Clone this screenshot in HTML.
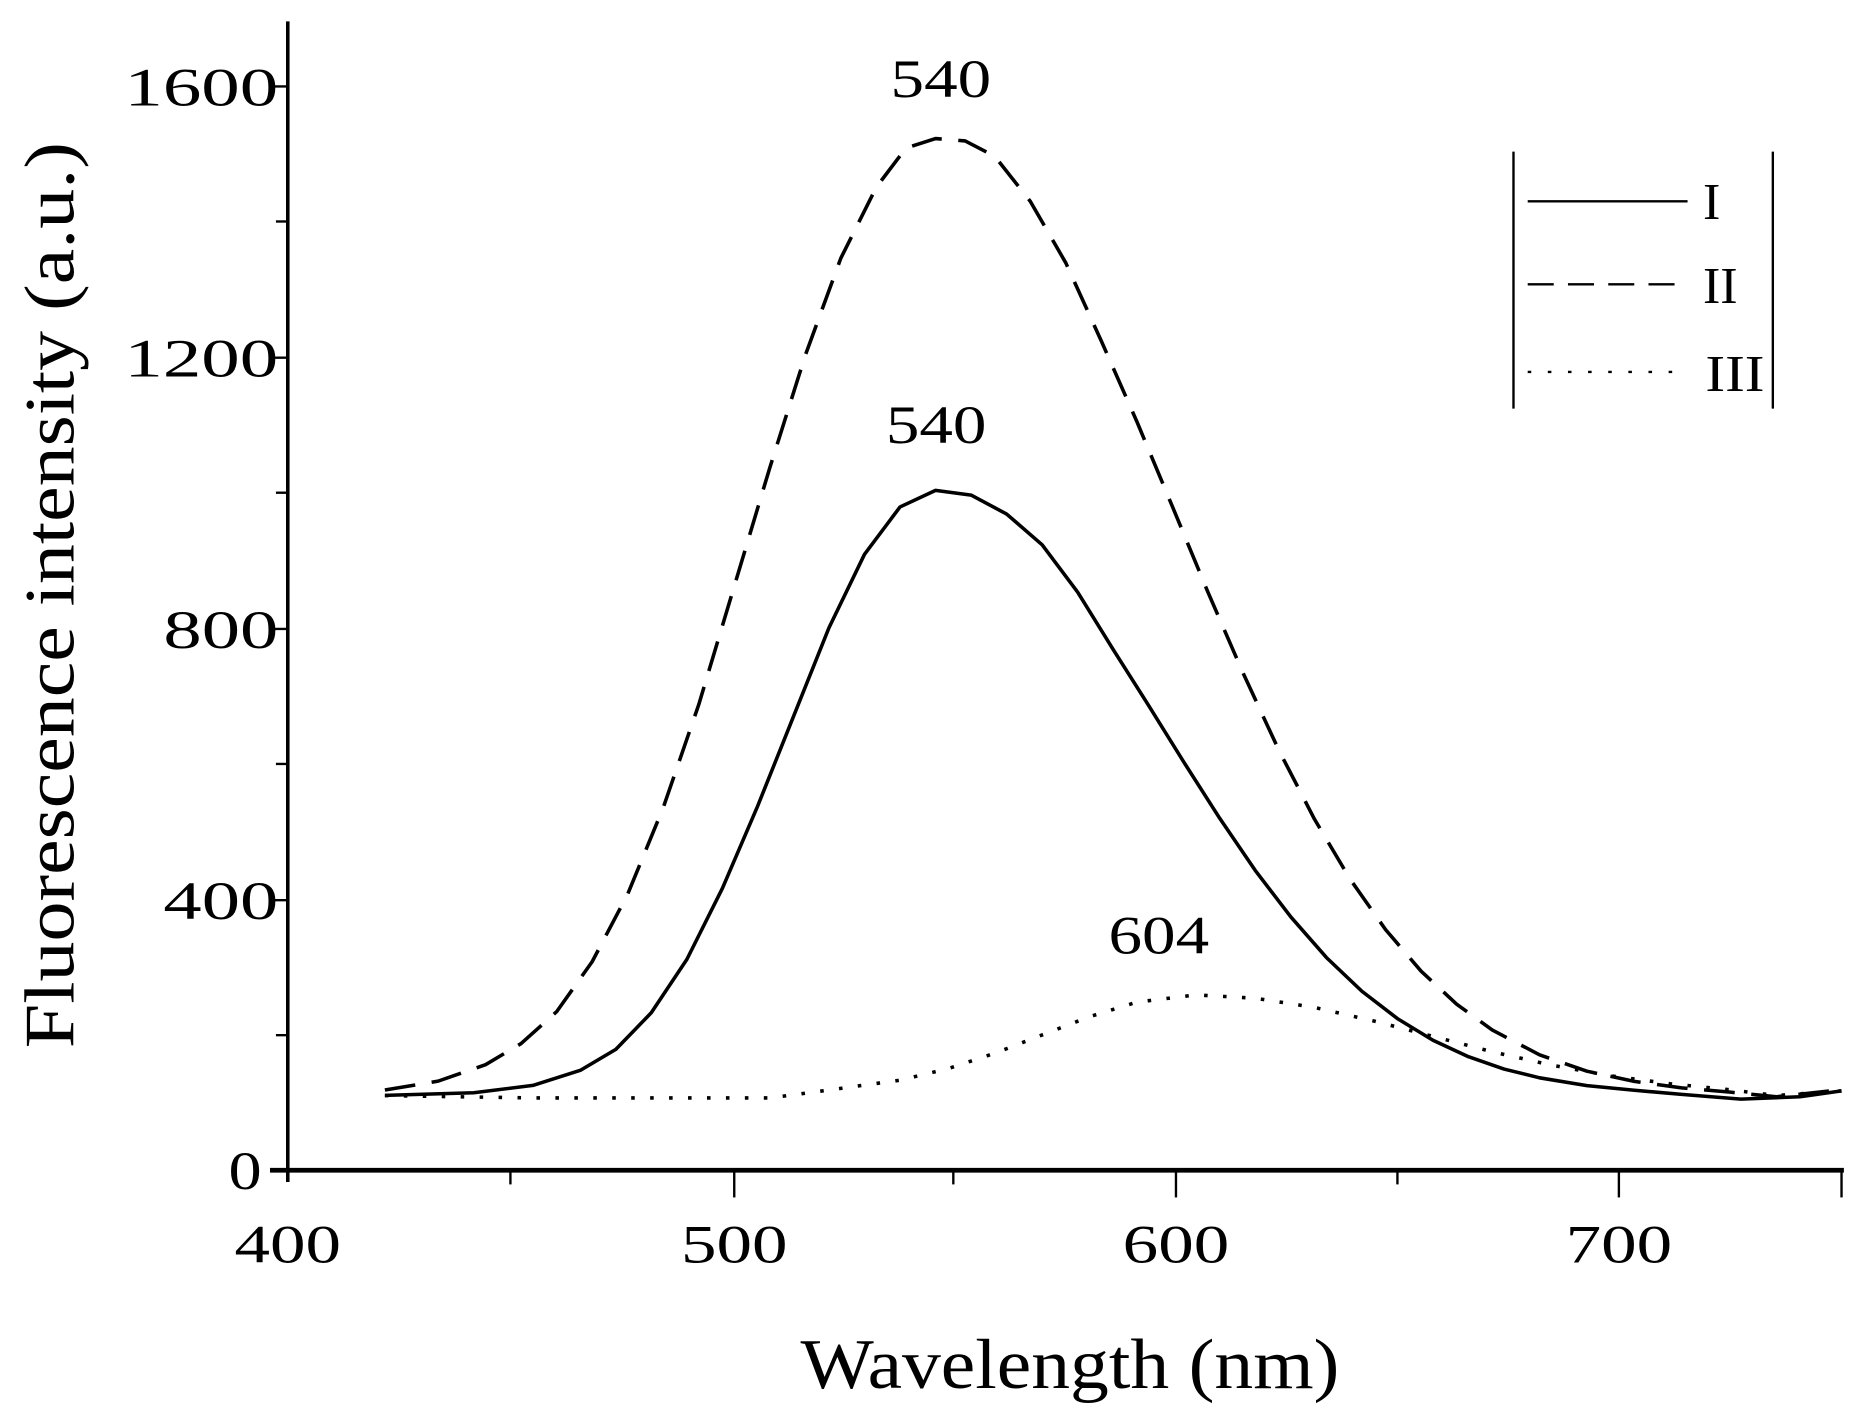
<!DOCTYPE html>
<html><head><style>html,body{margin:0;padding:0;background:#fff}svg{display:block}</style></head>
<body>
<svg width="1851" height="1413" viewBox="0 0 1563 1193" preserveAspectRatio="none" xmlns="http://www.w3.org/2000/svg" font-family="Liberation Serif, serif" fill="#000">
<rect width="1563" height="1193" fill="#fff"/>
<g stroke="#000" fill="none" stroke-linejoin="round">
<line x1="243" y1="18" x2="243" y2="998" stroke-width="3"/>
<line x1="228" y1="988" x2="1557" y2="988" stroke-width="4"/>
<g stroke-width="2">
<line x1="228" y1="73" x2="243" y2="73"/><line x1="233" y1="187" x2="243" y2="187"/>
<line x1="228" y1="302" x2="243" y2="302"/><line x1="233" y1="416" x2="243" y2="416"/>
<line x1="228" y1="531" x2="243" y2="531"/><line x1="233" y1="645" x2="243" y2="645"/>
<line x1="228" y1="760" x2="243" y2="760"/><line x1="233" y1="874" x2="243" y2="874"/>
<line x1="620" y1="988" x2="620" y2="1011"/><line x1="993" y1="988" x2="993" y2="1011"/>
<line x1="1367" y1="988" x2="1367" y2="1011"/><line x1="1555" y1="988" x2="1555" y2="1011"/>
<line x1="431" y1="988" x2="431" y2="1000"/><line x1="805" y1="988" x2="805" y2="1000"/>
<line x1="1180" y1="988" x2="1180" y2="1000"/>
</g>
<polyline stroke-width="3" points="325,924.8 400,922.6 450,916.4 490,903.7 520,886 550,855 580,810 610,750 640,680 670,605 700,530 730,468 760,428 790,414 820,418 850,434 880,460 910,500 940,548.4 970,595.8 1000,644 1030,691 1060,735 1090,774.2 1120,808.4 1150,836.9 1180,860 1210,878.3 1240,892.2 1270,902.6 1300,910 1340,916.6 1380,920.5 1420,924 1470,928 1520,926 1555,921"/>
<polyline stroke-width="3" stroke-dasharray="26,14" points="325,920.3 370,912.8 410,898.9 440,881.1 470,854.2 500,812 530,755 560,682 590,595 620,495 650,395 680,300 710,218 740,158 765,125 790,117 815,119 840,132 870,170 900,222 930,288 960,356 990,427.7 1020,500 1050,569 1080,633.7 1110,691.7 1140,742.2 1170,784.9 1200,820 1230,847.8 1260,869.6 1300,890.6 1340,904.4 1380,913 1420,918.5 1460,922 1500,926 1555,920"/>
<polyline stroke-width="3" stroke-dasharray="3,13" points="325,925 450,927 650,927 700,920.3 760,912 800,902.4 840,889.3 880,873.8 920,858.4 960,846.1 1010,840 1060,842.8 1110,850.6 1160,862 1210,875 1260,888 1310,899.3 1360,908.3 1410,915 1460,920 1500,925 1555,921"/>
<line x1="1278" y1="128" x2="1278" y2="345" stroke-width="2"/>
<line x1="1497" y1="128" x2="1497" y2="345" stroke-width="2"/>
<line x1="1290" y1="170" x2="1425" y2="170" stroke-width="2"/>
<line x1="1290" y1="240" x2="1425" y2="240" stroke-width="2" stroke-dasharray="22,12"/>
<line x1="1290" y1="314" x2="1425" y2="314" stroke-width="2" stroke-dasharray="3,14"/>
</g>
<g font-size="46">
<text x="105" y="89" textLength="130" lengthAdjust="spacingAndGlyphs">1600</text>
<text x="105" y="318" textLength="130" lengthAdjust="spacingAndGlyphs">1200</text>
<text x="138" y="547" textLength="97" lengthAdjust="spacingAndGlyphs">800</text>
<text x="138" y="776" textLength="97" lengthAdjust="spacingAndGlyphs">400</text>
<text x="193" y="1004" textLength="28" lengthAdjust="spacingAndGlyphs">0</text>
<text x="198" y="1066" textLength="90" lengthAdjust="spacingAndGlyphs">400</text>
<text x="575" y="1066" textLength="90" lengthAdjust="spacingAndGlyphs">500</text>
<text x="948" y="1066" textLength="90" lengthAdjust="spacingAndGlyphs">600</text>
<text x="1322" y="1066" textLength="90" lengthAdjust="spacingAndGlyphs">700</text>
<text x="752" y="82" textLength="85" lengthAdjust="spacingAndGlyphs">540</text>
<text x="748" y="374" textLength="85" lengthAdjust="spacingAndGlyphs">540</text>
<text x="936" y="805" textLength="85" lengthAdjust="spacingAndGlyphs">604</text>
</g>
<g font-size="44"><text x="1438" y="185">I</text><text x="1438" y="256">II</text><text x="1440" y="330" textLength="50" lengthAdjust="spacingAndGlyphs">III</text></g>
<text x="676" y="1172" font-size="60" textLength="455" lengthAdjust="spacingAndGlyphs">Wavelength (nm)</text>
<text transform="translate(62,885) rotate(-90)" font-size="60" textLength="765" lengthAdjust="spacingAndGlyphs">Fluorescence intensity (a.u.)</text>
</svg>
</body></html>
